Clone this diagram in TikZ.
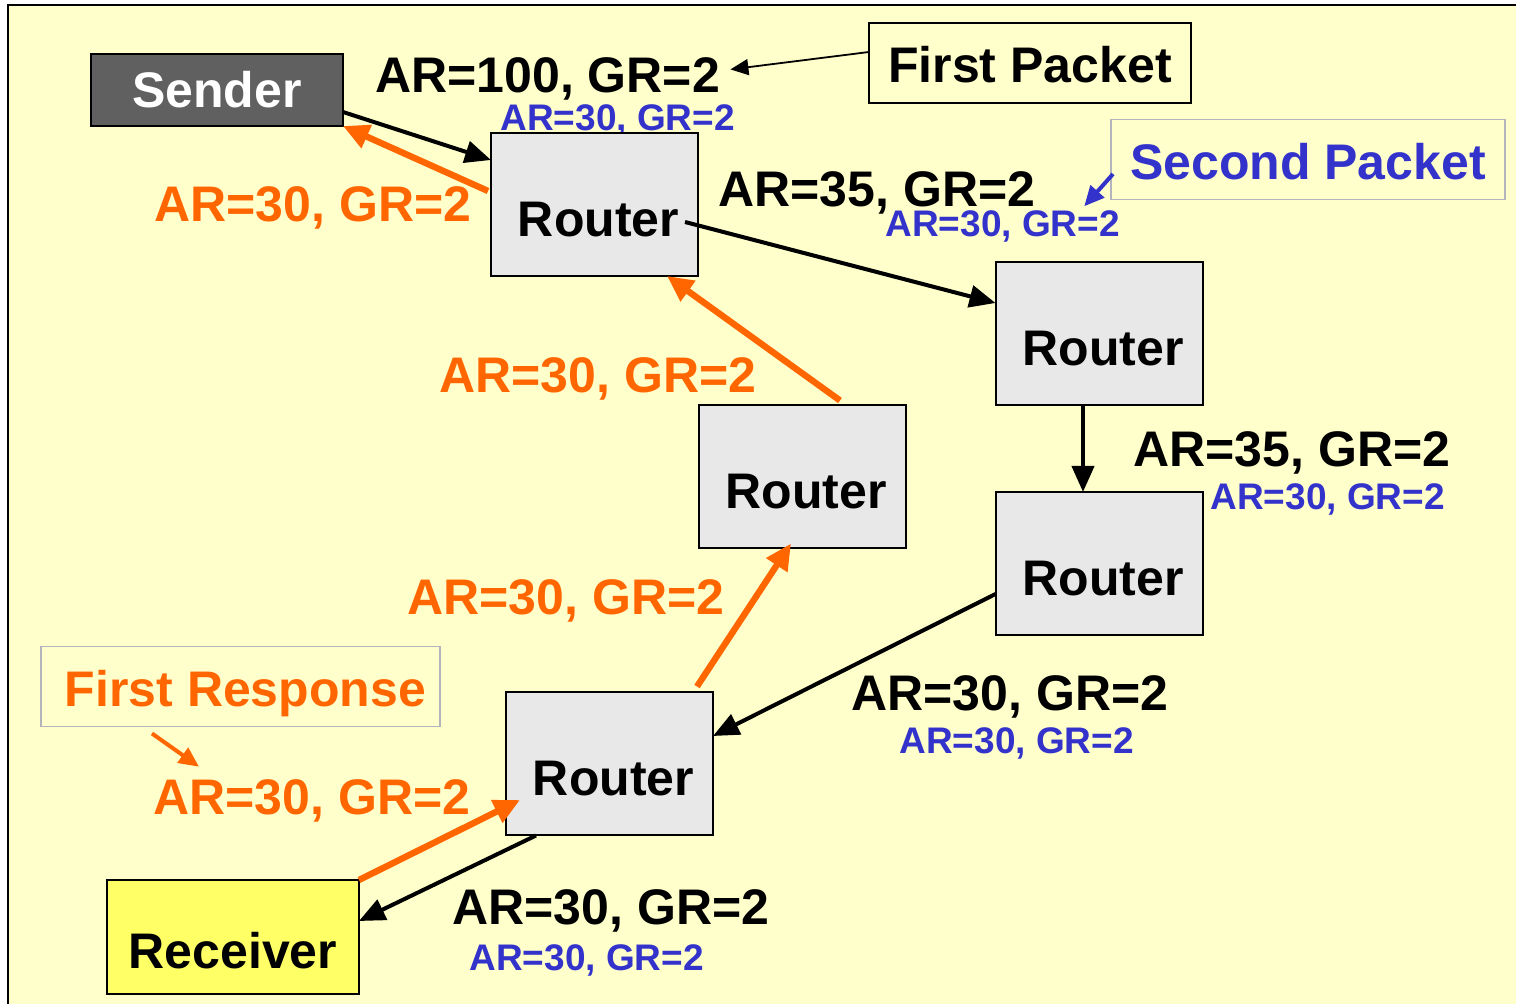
\documentclass[tikz,border=0pt]{standalone}
\usepackage{fontspec}
\setmainfont{Liberation Sans}
\usetikzlibrary{arrows.meta}

\definecolor{slidebg}{HTML}{FFFFCC}
\definecolor{rtgray}{HTML}{E8E8E8}
\definecolor{sndgray}{HTML}{606060}
\definecolor{rcvyellow}{HTML}{FFFF66}
\definecolor{respor}{HTML}{FF6600}
\definecolor{pktblue}{HTML}{3333CC}
\definecolor{boxgray}{HTML}{B4B4BC}

\begin{document}
\begin{tikzpicture}[x=0.5pt,y=-0.5pt,>=Triangle,
  bigrate/.style={font=\fontsize{25}{30}\selectfont\bfseries},
  subrate/.style={font=\fontsize{18.5}{22}\selectfont\bfseries,text=pktblue},
  lbl/.style={anchor=base west,inner sep=0pt},
  router/.style={draw=black,line width=1pt,fill=rtgray,minimum width=103.5pt,minimum height=71.5pt,inner sep=0pt,outer sep=0pt,bigrate,text height=32pt,text depth=0pt},
  notebox/.style={draw,line width=0.8pt,minimum height=40pt,inner sep=0pt,outer sep=0pt,bigrate,text height=20pt,text depth=0pt},
  fwd/.style={line width=2pt,-{Triangle[length=13pt,width=11pt]}},
  back/.style={draw=respor,line width=3.2pt,-{Triangle[length=13pt,width=12pt]}}]
\useasboundingbox (0,0) rectangle (1516,1004);
\fill[white] (0,0) rectangle (1516,1004);
\fill[slidebg] (8,5) rectangle (1516,1004);
\draw[line width=0.8pt] (8,1004) -- (8,5) -- (1516,5);

% rates carried by the packets
\node[bigrate,lbl] (ar1) at (375,93) {AR=100, GR=2};
\node[subrate,lbl] (ar1b) at (500,131) {AR=30, GR=2};
\node[bigrate,lbl] (ar2) at (718,207) {AR=35, GR=2};
\node[subrate,lbl] (ar2b) at (885,237) {AR=30, GR=2};
\node[bigrate,lbl] (ar3) at (1133,467) {AR=35, GR=2};
\node[subrate,lbl] (ar3b) at (1210,510) {AR=30, GR=2};
\node[bigrate,lbl] (ar4) at (851,711) {AR=30, GR=2};
\node[subrate,lbl] (ar4b) at (899,754) {AR=30, GR=2};
\node[bigrate,lbl] (ar5) at (452,925) {AR=30, GR=2};
\node[subrate,lbl] (ar5b) at (469,971) {AR=30, GR=2};
% rates on the way back
\node[bigrate,lbl,text=respor] (rs1) at (154,222) {AR=30, GR=2};
\node[bigrate,lbl,text=respor] (rs2) at (439,393) {AR=30, GR=2};
\node[bigrate,lbl,text=respor] (rs3) at (407,615) {AR=30, GR=2};
\node[bigrate,lbl,text=respor] (rs4) at (153,815) {AR=30, GR=2};

% end hosts and routers
\node[draw=black,line width=1pt,fill=sndgray,text=white,bigrate,minimum width=126pt,minimum height=36pt,inner sep=0pt,outer sep=0pt] (sender) at (217,90) {Sender};
\node[draw=black,line width=1pt,fill=rcvyellow,bigrate,minimum width=126pt,minimum height=57pt,inner sep=0pt,outer sep=0pt,text height=31pt,text depth=0pt] (receiver) at (233,937) {Receiver};
\node[router] (r1) at (594.5,204.5) {\hspace{4pt}Router};
\node[router] (r2) at (1099,333.5) {\hspace{4pt}Router};
\node[router] (r3) at (802,477) {\hspace{4pt}Router};
\node[router] (r4) at (1099,563.5) {\hspace{4pt}Router};
\node[router] (r5) at (609.5,764) {\hspace{4pt}Router};

% callouts
\node[notebox,draw=black,minimum width=161pt] (fpkt) at (1030,63) {First Packet};
\node[notebox,draw=boxgray,text=pktblue,minimum width=197pt] (spkt) at (1308,159.5) {Second Packet};
\node[notebox,draw=boxgray,text=respor,minimum width=199.5pt] (fresp) at (240.5,686.5) {\hspace{5pt}First Response};

% packet path
\draw[fwd] ([yshift=7pt]sender.south east) -- ([yshift=-13.5pt]r1.north west);
\draw[fwd] ([xshift=-6.5pt,yshift=-8.75pt]r1.east) -- ([yshift=-20.5pt]r2.north west);
\draw[fwd] ([xshift=-8pt]r2.south) -- ([xshift=-8pt]r4.north);
\draw[fwd] ([yshift=-15.25pt]r4.west) -- ([yshift=14pt]r5.east);
\draw[fwd] ([xshift=-36.75pt]r5.south) -- ([yshift=8pt]receiver.east);

% response path
\draw[back] (receiver.north east) -- ([xshift=7pt,yshift=-18pt]r5.west);
\draw[back] ([xshift=43.75pt,yshift=3pt]r5.north) -- ([xshift=-5.5pt,yshift=2.5pt]r3.south);
\draw[back] ([xshift=19pt,yshift=2.5pt]r3.north) -- ([xshift=36.25pt]r1.south);
\draw[back] ([xshift=-1.5pt,yshift=6.75pt]r1.west) -- (sender.south east);

% callout pointers
\draw[line width=0.9pt,-{Triangle[length=9pt,width=8pt]}] ([yshift=5.5pt]fpkt.west) -- ([xshift=5pt,yshift=5pt]ar1.east);
\draw[draw=pktblue,line width=2pt,-{Triangle[length=10pt,width=9pt]}] ([xshift=1pt,yshift=-7.25pt]spkt.west) -- ([xshift=-18pt,yshift=2.25pt]ar2b.north east);
\draw[draw=respor,line width=2pt,-{Triangle[length=10pt,width=9pt]}] ([xshift=-44.25pt,yshift=-3.5pt]fresp.south) -- ([xshift=23pt,yshift=6.5pt]rs4.north west);
\end{tikzpicture}
\end{document}
